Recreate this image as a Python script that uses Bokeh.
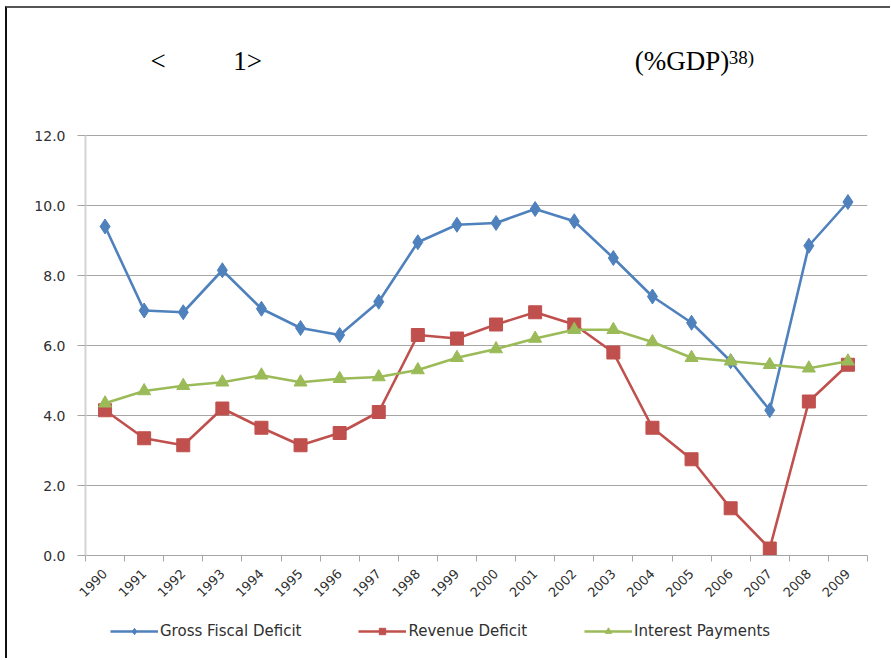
from bokeh.plotting import figure
from bokeh.layouts import column
from bokeh.models import Range1d, FixedTicker, Legend, LegendItem, Label, NumeralTickFormatter
from bokeh.embed import file_html
from bokeh.resources import INLINE

years = [str(y) for y in range(1990, 2010)]
gross_fiscal_deficit = [9.4, 7.0, 6.95, 8.15, 7.05, 6.5, 6.3, 7.25, 8.95, 9.45,
                        9.5, 9.9, 9.55, 8.5, 7.4, 6.65, 5.55, 4.15, 8.85, 10.1]
revenue_deficit = [4.15, 3.35, 3.15, 4.2, 3.65, 3.15, 3.5, 4.1, 6.3, 6.2,
                   6.6, 6.95, 6.6, 5.8, 3.65, 2.75, 1.35, 0.2, 4.4, 5.45]
interest_payments = [4.35, 4.7, 4.85, 4.95, 5.15, 4.95, 5.05, 5.1, 5.3, 5.65,
                     5.9, 6.2, 6.45, 6.45, 6.1, 5.65, 5.55, 5.45, 5.35, 5.55]
y_ticks = [0, 2, 4, 6, 8, 10, 12]
series_names = ["Gross Fiscal Deficit", "Revenue Deficit", "Interest Payments"]

xs = list(range(len(years)))
colors = ["#4F81BD", "#C0504D", "#9BBB59"]
data = [gross_fiscal_deficit, revenue_deficit, interest_payments]
markers = ["diamond", "square", "triangle"]
sizes = [15, 13, 13]

# y range extends above 12 to leave room for the caption inside the frame
p = figure(frame_width=782, frame_height=525, output_backend="svg", toolbar_location=None,
           x_range=Range1d(-0.5, len(years) - 0.5), y_range=Range1d(0, 15),
           min_border_left=78, min_border_right=23, min_border_top=22,
           min_border_bottom=65)
p.outline_line_color = None
p.background_fill_color = "white"

# x axis: labels at category centres, tick marks between categories
p.xaxis.ticker = FixedTicker(ticks=xs, minor_ticks=[i - 0.5 for i in range(len(years) + 1)])
p.xaxis.major_label_overrides = {i: y for i, y in enumerate(years)}
p.xaxis.major_label_orientation = 0.785
p.xaxis.major_tick_out = 0
p.xaxis.major_tick_in = 0
p.xaxis.minor_tick_out = 6
p.xaxis.minor_tick_in = 0
p.xaxis.minor_tick_line_color = "#a6a6a6"
p.xaxis.axis_line_color = "#a6a6a6"
p.xaxis.major_label_text_font = "DejaVu Sans"
p.xaxis.major_label_text_font_size = "13px"
p.xaxis.major_label_text_color = "#303030"
p.xaxis.major_label_standoff = 10

p.yaxis.ticker = FixedTicker(ticks=y_ticks)
p.yaxis.bounds = (0, 12)
p.yaxis.formatter = NumeralTickFormatter(format="0.0")
p.yaxis.major_tick_out = 8
p.yaxis.major_tick_in = 0
p.yaxis.major_tick_line_color = "#a6a6a6"
p.yaxis.minor_tick_line_color = None
p.yaxis.axis_line_color = "#d4d4d4"
p.yaxis.axis_line_width = 2
p.yaxis.major_label_text_font = "DejaVu Sans"
p.yaxis.major_label_text_font_size = "14px"
p.yaxis.major_label_text_color = "#303030"
p.yaxis.major_label_standoff = 12

p.xgrid.grid_line_color = None
p.ygrid.grid_line_color = "#a6a6a6"
p.ygrid.grid_line_width = 1

for vals, c, m, s in zip(data, colors, markers, sizes):
    p.line(xs, vals, line_color=c, line_width=2.6)
    p.scatter(xs, vals, marker=m, size=s, fill_color=c, line_color=c)

cap = dict(text_font="Liberation Serif", text_color="black")
p.add_layout(Label(x=1.16, y=13.69, text="<", text_font_size="27px", **cap))
p.add_layout(Label(x=3.28, y=13.69, text="1>", text_font_size="27px", **cap))
p.add_layout(Label(x=13.55, y=13.69, text="(%GDP)", text_font_size="27px", **cap))
p.add_layout(Label(x=15.95, y=13.92, text="38)", text_font_size="19px", **cap))

# legend strip below the chart (series keys drawn outside its visible range)
lg = figure(width=883, height=38, output_backend="svg", toolbar_location=None,
            x_range=Range1d(-100, -99), y_range=Range1d(0, 1),
            x_axis_type=None, y_axis_type=None,
            min_border_left=0, min_border_right=0, min_border_top=0, min_border_bottom=0)
lg.outline_line_color = None
lg.xgrid.visible = False
lg.ygrid.visible = False
items = []
for name, vals, c, m, s in zip(series_names, data, colors, markers, sizes):
    l = lg.line(xs, vals, line_color=c, line_width=2.6)
    sc = lg.scatter(xs, vals, marker=m, size=s - 3, fill_color=c, line_color=c)
    items.append(LegendItem(label=name, renderers=[l, sc]))
legend = Legend(items=items, orientation="horizontal", location=(25, 18),
                glyph_width=48, glyph_height=16, label_text_font="DejaVu Sans",
                label_text_font_size="15px", label_text_color="#303030",
                spacing=57, padding=0, margin=0, border_line_color=None,
                background_fill_alpha=0, label_standoff=2)
lg.add_layout(legend, "center")

layout = column(p, lg, spacing=0)
layout.styles = {"border-top": "2px solid #555555", "border-left": "2px solid #111111",
                 "margin-left": "5px", "margin-top": "6px"}

open("out.html", "w").write(file_html(layout, INLINE))
